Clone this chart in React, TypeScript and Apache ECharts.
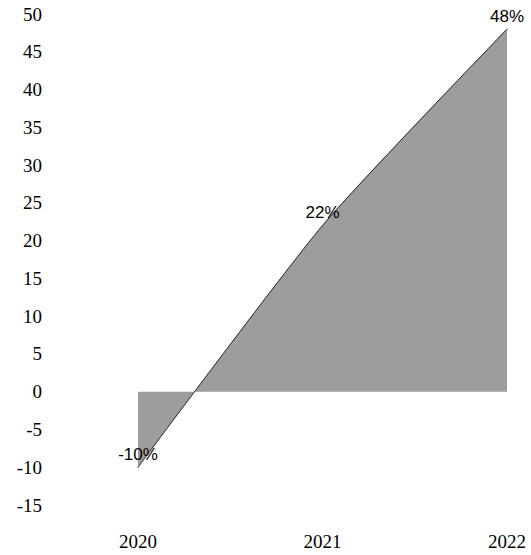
import React, { useEffect, useRef } from "react";
import * as echarts from "echarts";

const categories = ["2020", "2021", "2022"];
const growthValues = [-10, 22, 48];
const valueLabels = ["-10%", "22%", "48%"];

export default function App() {
  const ref = useRef<HTMLDivElement>(null);
  useEffect(() => {
    if (!ref.current) return;
    const chart = echarts.init(ref.current, undefined, { renderer: "svg" });
    chart.setOption({
      animation: false,
      backgroundColor: "#ffffff",
      grid: { left: 138, right: 24, top: 14, bottom: 50 },
      xAxis: {
        type: "category",
        data: categories,
        boundaryGap: false,
        axisLine: { show: false },
        axisTick: { show: false },
        splitLine: { show: false },
        axisLabel: {
          margin: 27,
          fontFamily: "Liberation Serif",
          fontSize: 19,
          color: "#000",
        },
      },
      yAxis: {
        type: "value",
        min: -15,
        max: 50,
        interval: 5,
        axisLine: { show: false },
        axisTick: { show: false },
        splitLine: { show: false },
        axisLabel: {
          margin: 96,
          fontFamily: "Liberation Serif",
          fontSize: 19,
          color: "#000",
        },
      },
      series: [
        {
          type: "line",
          data: growthValues,
          smooth: 0.2,
          symbol: "circle",
          symbolSize: 1,
          showSymbol: true,
          itemStyle: { color: "#333" },
          lineStyle: { color: "#222", width: 1 },
          areaStyle: { color: "#9d9d9d", opacity: 1 },
          label: {
            show: true,
            position: "top",
            distance: 4,
            fontFamily: "Liberation Sans",
            fontSize: 17,
            color: "#000",
            formatter: (p: any) => valueLabels[p.dataIndex],
          },
        },
      ],
    });
    return () => chart.dispose();
  }, []);
  return (
    <div
      ref={ref}
      style={{ position: "fixed", left: 0, top: 0, width: 531, height: 555 }}
    />
  );
}
